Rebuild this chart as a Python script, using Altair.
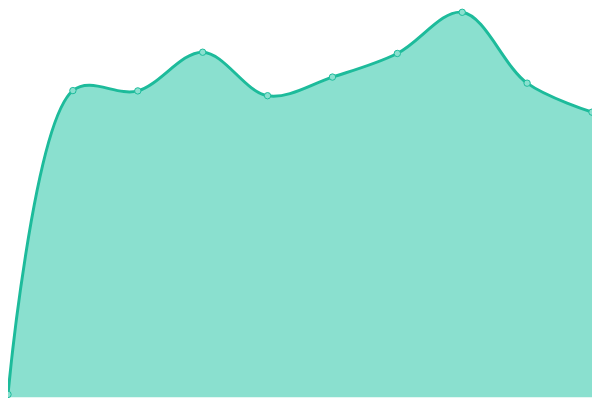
import altair as alt
import pandas as pd

idx = [0, 1, 2, 3, 4, 5, 6, 7, 8, 9]
values = [3, 317.3, 317, 357, 312, 331.3, 355.7, 398.3, 325, 295]

df = pd.DataFrame({"i": idx, "v": values})

x = alt.X("i:Q", axis=None, scale=alt.Scale(domain=[0, 9], nice=False, zero=False))
y = alt.Y("v:Q", axis=None, scale=alt.Scale(domain=[0, 400], nice=False))

base = alt.Chart(df).encode(x=x, y=y)

area = base.mark_area(interpolate="catmull-rom", color="#8ae0cf", opacity=1)
line = base.mark_line(interpolate="catmull-rom", color="#1dbb9b", strokeWidth=3)
pts = base.mark_point(filled=True, fill="#8ae0cf", stroke="#1dbb9b",
                      strokeWidth=1, size=42, opacity=1)

chart = (area + line + pts).properties(
    width=592, height=392,
    autosize=alt.AutoSizeParams(type="none"),
    padding=0,
).configure_view(stroke=None)

chart.save("out.html", embed_options={"renderer": "svg", "actions": False})
